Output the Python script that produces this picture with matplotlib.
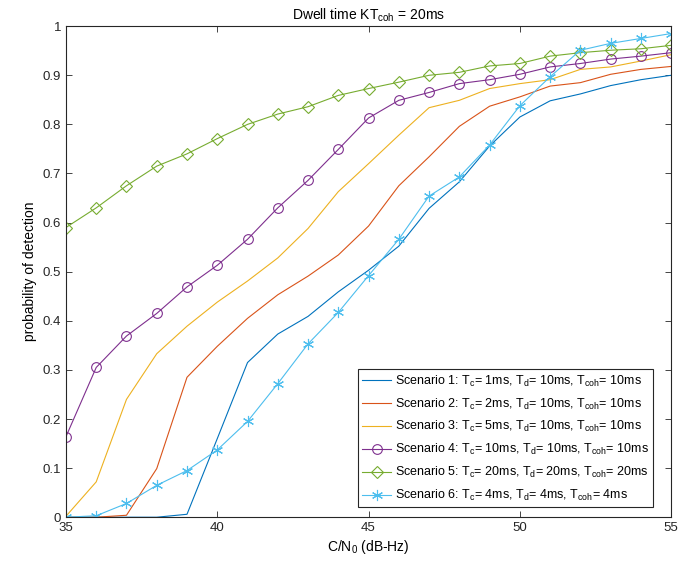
import numpy as np
import matplotlib
matplotlib.use("Agg")
import matplotlib.pyplot as plt

plt.rcParams['font.family'] = ['Liberation Sans', 'DejaVu Sans']
plt.rcParams['mathtext.default'] = 'regular'

cn0 = list(range(35, 56))

s1 = [0, 0, 0, 0, 0.006, 0.16, 0.315, 0.373, 0.409, 0.459, 0.503, 0.552, 0.629,
      0.683, 0.756, 0.815, 0.848, 0.862, 0.879, 0.891, 0.900]
s2 = [0, 0, 0.004, 0.099, 0.285, 0.348, 0.405, 0.453, 0.491, 0.534, 0.593, 0.675,
      0.734, 0.796, 0.837, 0.856, 0.878, 0.885, 0.902, 0.912, 0.918]
s3 = [0.002, 0.072, 0.240, 0.333, 0.389, 0.438, 0.481, 0.528, 0.588, 0.663, 0.720,
      0.778, 0.834, 0.849, 0.873, 0.883, 0.891, 0.912, 0.917, 0.929, 0.942]
s4 = [0.164, 0.305, 0.369, 0.415, 0.469, 0.513, 0.566, 0.630, 0.686, 0.749, 0.813,
      0.849, 0.865, 0.883, 0.891, 0.902, 0.917, 0.924, 0.933, 0.939, 0.946]
s5 = [0.590, 0.630, 0.675, 0.715, 0.740, 0.771, 0.800, 0.821, 0.836, 0.859, 0.873,
      0.886, 0.900, 0.906, 0.919, 0.924, 0.939, 0.946, 0.951, 0.954, 0.961]
s6 = [0, 0.003, 0.028, 0.065, 0.095, 0.137, 0.195, 0.272, 0.353, 0.417, 0.492,
      0.566, 0.654, 0.693, 0.758, 0.838, 0.897, 0.951, 0.965, 0.975, 0.985]

labels = [
    "Scenario 1: T$_c$= 1ms, T$_d$= 10ms, T$_{coh}$= 10ms",
    "Scenario 2: T$_c$= 2ms, T$_d$= 10ms, T$_{coh}$= 10ms",
    "Scenario 3: T$_c$= 5ms, T$_d$= 10ms, T$_{coh}$= 10ms",
    "Scenario 4: T$_c$= 10ms, T$_d$= 10ms, T$_{coh}$= 10ms",
    "Scenario 5: T$_c$= 20ms, T$_d$= 20ms, T$_{coh}$= 20ms",
    "Scenario 6: T$_c$= 4ms, T$_d$= 4ms, T$_{coh}$= 4ms",
]
colors = ['#0072BD', '#D95319', '#EDB120', '#7E2F8E', '#77AC30', '#4DBEEE']
markers = [None, None, None, 'o', 'D', (6, 2, 0)]
msizes = [0, 0, 0, 7, 6, 8]

fig = plt.figure(figsize=(6.8, 5.69), dpi=100)
ax = fig.add_axes([0.097, 0.091, 0.890, 0.863])

for y, lab, c, m, ms in zip([s1, s2, s3, s4, s5, s6], labels, colors, markers, msizes):
    ax.plot(cn0, y, color=c, lw=0.8, marker=m, markersize=ms,
            markerfacecolor='none', markeredgecolor=c, markeredgewidth=0.8, label=lab)

ax.set_xlim(35, 55)
ax.set_ylim(0, 1)
ax.set_xticks([35, 40, 45, 50, 55])
ax.set_yticks(np.arange(0, 1.01, 0.1))
ax.set_yticklabels(['0', '0.1', '0.2', '0.3', '0.4', '0.5', '0.6', '0.7', '0.8', '0.9', '1'])
ax.tick_params(direction='in', top=True, right=True, labelsize=9.5, colors='#262626',
               length=4, width=0.6)
for sp in ax.spines.values():
    sp.set_linewidth(0.8)
    sp.set_color('#262626')

ax.set_title("Dwell time KT$_{coh}$ = 20ms", fontsize=10, pad=5)
ax.set_xlabel("C/N$_0$ (dB-Hz)", fontsize=10, labelpad=3)
ax.set_ylabel("probability of detection", fontsize=10, labelpad=4)

leg = ax.legend(loc='lower right', bbox_to_anchor=(0.97, 0.02), fontsize=9,
                frameon=True, fancybox=False,
                edgecolor='#262626', framealpha=1, borderaxespad=0.0,
                handlelength=2.3, handletextpad=0.3, labelspacing=0.62,
                borderpad=0.35)
leg.get_frame().set_linewidth(0.8)

fig.savefig("out.png", dpi=100)
